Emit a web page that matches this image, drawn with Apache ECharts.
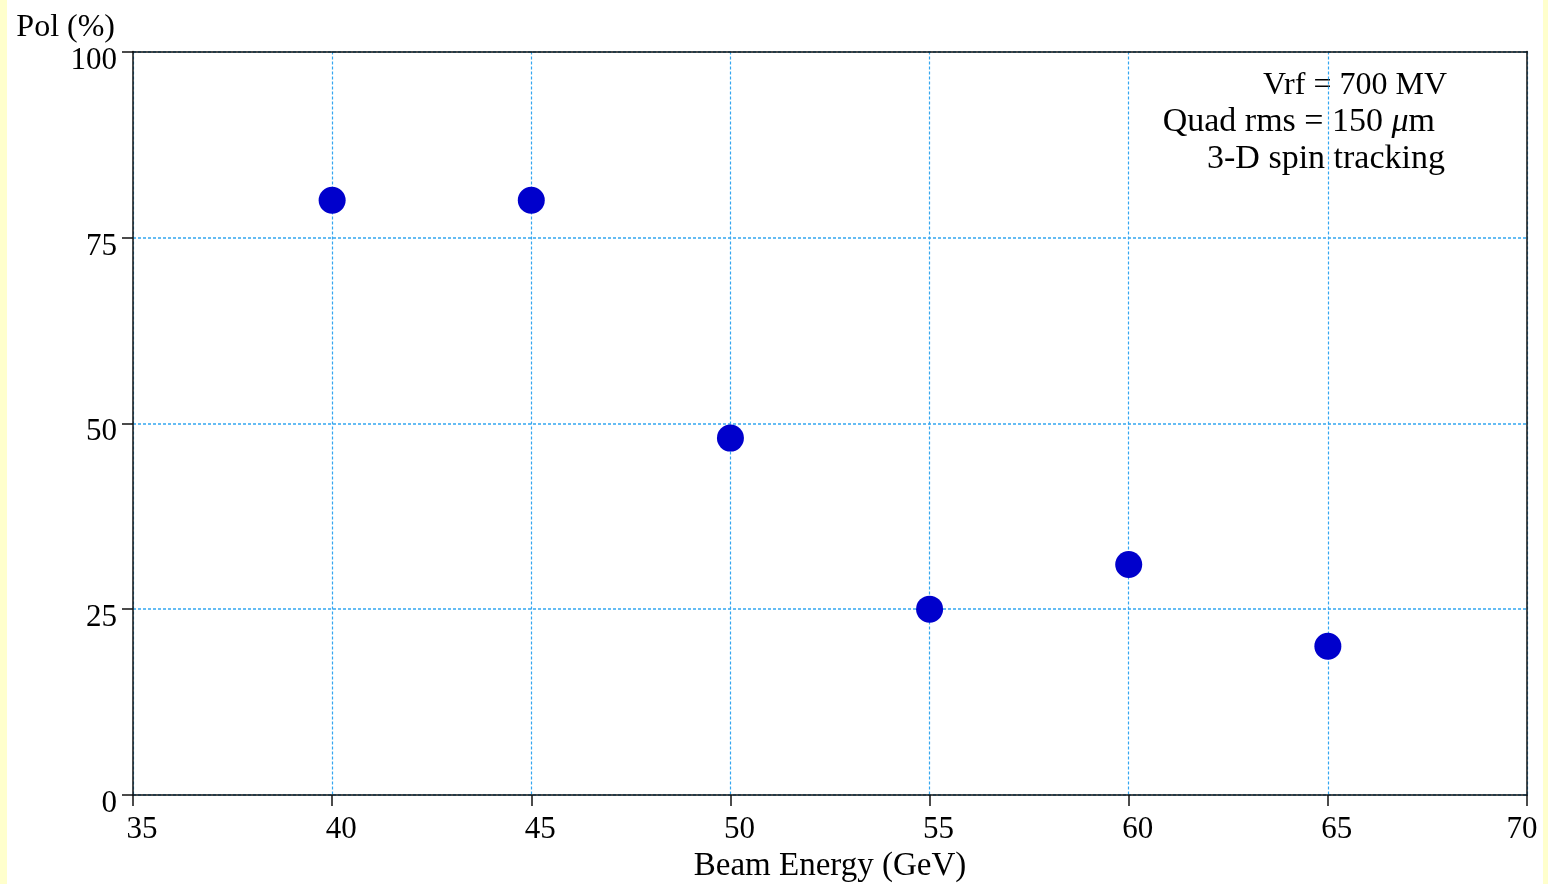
<!DOCTYPE html>
<html>
<head>
<meta charset="utf-8">
<script src="https://cdn.jsdelivr.net/npm/echarts@6/dist/echarts.min.js"></script>
<style>
html,body{margin:0;padding:0;background:#fff;overflow:hidden;}
#c{width:1548px;height:884px;}
</style>
</head>
<body>
<div id="c"></div>
<script>
const energies = [40, 45, 50, 55, 60, 65];
const polarization = [80, 80, 48, 25, 31, 20];
const xTicks = [35, 40, 45, 50, 55, 60, 65, 70];
const yTicks = [0, 25, 50, 75, 100];
const noteLines = ['Vrf = 700 MV', 'Quad rms = 150 μm', '3-D spin tracking'];

const FONT = '"Liberation Serif", "DejaVu Serif", serif';
const GRID_COLOR = '#33a6f0';
const chart = echarts.init(document.getElementById('c'), null, {renderer: 'canvas'});
const points = energies.map((e, i) => [e, polarization[i]]);
const xMax = xTicks[xTicks.length - 1];

chart.setOption({
  backgroundColor: '#ffffff',
  animation: false,
  grid: {left: 133, right: 21, top: 51.5, bottom: 89, containLabel: false, outerBoundsMode: 'none'},
  xAxis: [{
    type: 'value', min: xTicks[0], max: xMax, interval: 5,
    position: 'bottom',
    name: 'Beam Energy (GeV)', nameLocation: 'middle', nameGap: 49,
    nameTextStyle: {fontFamily: FONT, fontSize: 33, color: '#000'},
    axisLine: {show: true, lineStyle: {color: '#111', width: 1.5}},
    axisTick: {show: true, inside: false, length: 11, lineStyle: {color: '#111', width: 1.5}},
    axisLabel: {
      fontFamily: FONT, fontSize: 31, color: '#000', margin: 19,
      formatter: v => (v === xMax ? '{e|' + v + '}' : '{n|' + v + '}'),
      rich: {
        n: {fontFamily: FONT, fontSize: 31, color: '#000', padding: [0, 0, 0, 18]},
        e: {fontFamily: FONT, fontSize: 31, color: '#000', padding: [0, 10, 0, 0]}
      }
    },
    splitLine: {show: true, lineStyle: {color: GRID_COLOR, type: [3, 2], width: 1.2, opacity: 1}}
  }, {
    type: 'value', min: xTicks[0], max: xMax, interval: 5,
    position: 'top',
    axisLine: {show: true, onZero: false, lineStyle: {color: '#111', width: 1.5}},
    axisTick: {show: false}, axisLabel: {show: false}, splitLine: {show: false}
  }],
  yAxis: [{
    type: 'value', min: yTicks[0], max: yTicks[yTicks.length - 1], interval: 25,
    position: 'left',
    name: 'Pol (%)', nameLocation: 'end', nameGap: 8,
    nameTextStyle: {fontFamily: FONT, fontSize: 32, color: '#000', align: 'right', padding: [0, 18, 0, 0]},
    axisLine: {show: true, lineStyle: {color: '#111', width: 1.5}},
    axisTick: {show: true, inside: false, length: 11, lineStyle: {color: '#111', width: 1.5}},
    axisLabel: {fontFamily: FONT, fontSize: 31, color: '#000', margin: 16, verticalAlign: 'top', lineHeight: 18},
    splitLine: {show: true, lineStyle: {color: GRID_COLOR, type: [3, 2], width: 1.6, opacity: 1}}
  }, {
    type: 'value', min: yTicks[0], max: yTicks[yTicks.length - 1], interval: 25,
    position: 'right',
    axisLine: {show: true, onZero: false, lineStyle: {color: '#111', width: 1.5}},
    axisTick: {show: false}, axisLabel: {show: false}, splitLine: {show: false}
  }],
  series: [{
    type: 'scatter',
    xAxisIndex: 0, yAxisIndex: 0,
    data: points,
    symbol: 'circle',
    symbolSize: 27,
    itemStyle: {color: '#0000cc', opacity: 1},
    z: 5
  }],
  graphic: [
    {type: 'rect', left: 0, top: 0, shape: {width: 7, height: 884}, style: {fill: '#ffffcc'}, silent: true},
    {type: 'rect', left: 1543, top: 0, shape: {width: 5, height: 884}, style: {fill: '#ffffcc'}, silent: true},
    {type: 'text', x: 1447, y: 86, style: {text: noteLines[0], font: '32px ' + FONT, fill: '#000', align: 'right', verticalAlign: 'middle'}},
    {type: 'text', x: 1435, y: 122, style: {
      text: '{a|Quad rms = 150 }{i|μ}{a|m}', fill: '#000', align: 'right', verticalAlign: 'middle',
      rich: {a: {fontFamily: FONT, fontSize: 34, fill: '#000'}, i: {fontFamily: FONT, fontSize: 34, fontStyle: 'italic', fill: '#000'}}
    }},
    {type: 'text', x: 1445, y: 159, style: {text: noteLines[2], font: '34px ' + FONT, fill: '#000', align: 'right', verticalAlign: 'middle'}}
  ]
});
</script>
</body>
</html>
